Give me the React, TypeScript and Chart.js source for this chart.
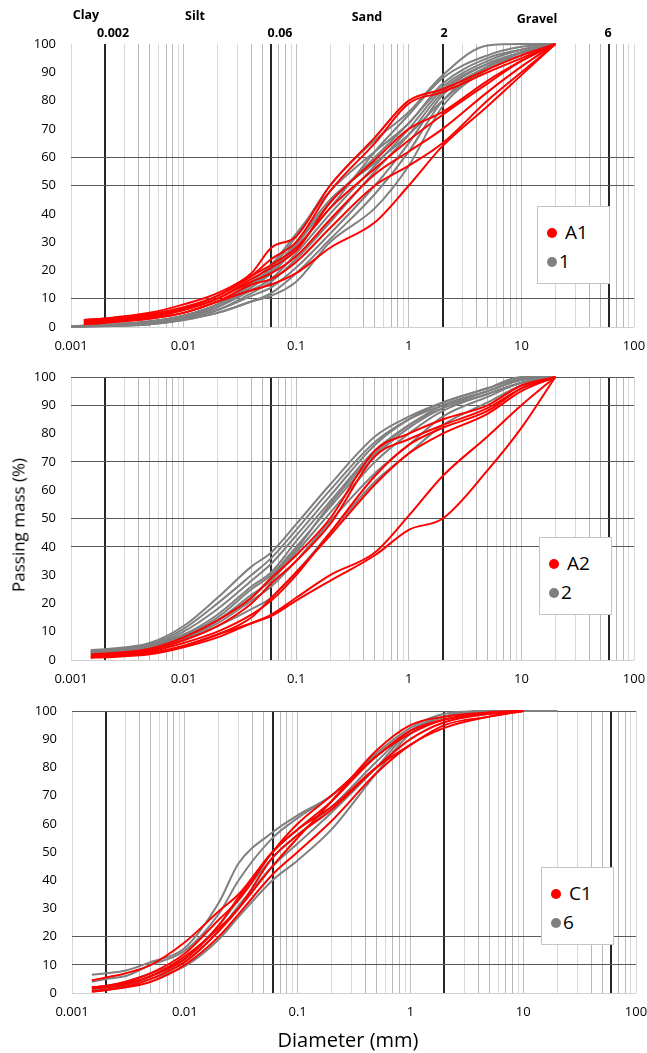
import React, { useEffect, useRef } from "react";
import { Chart, registerables } from "chart.js";
Chart.register(...registerables);

// ---------- axis data ----------
const decadeStarts = [0.001, 0.01, 0.1, 1, 10];
const multipliers = [1, 2, 3, 4, 5, 6, 7, 8, 9];
const yTickValues = [0, 10, 20, 30, 40, 50, 60, 70, 80, 90, 100];
const boundaryDiameters = [0.002, 0.06, 2, 60];
const darkMultipliers = [4, 5, 7, 8];

// horizontal reference lines per panel
const p1HLines = [10, 50, 60];
const p2HLines = [40, 50, 70, 90, 100];
const p3HLines = [10, 20, 100];

// header labels
const soilClasses = ["Clay", "Silt", "Sand", "Gravel"];
const boundaryLabels = ["0.002", "0.06", "2", "6"];

// ---------- panel 1 (A1 / 1) ----------
const p1GrayD = [0.001, 0.002, 0.005, 0.01, 0.02, 0.04, 0.06, 0.1, 0.2, 0.5, 1, 2, 5, 10, 20];
const p1Gray1 = [0.3, 0.8, 2, 4, 8, 15, 21, 32, 50, 66, 76, 89, 99.5, 100, 100];
const p1Gray2 = [0.3, 0.7, 2, 4, 8, 16, 22, 33, 48, 62, 72, 86, 95, 98, 100];
const p1Gray3 = [0.2, 0.6, 1.5, 3.5, 7, 14, 19, 29, 44, 60, 72, 85, 94, 98, 100];
const p1Gray4 = [0.2, 0.5, 1.5, 3.5, 7, 13, 17, 26, 40, 57, 70, 84, 93, 97, 100];
const p1Gray5 = [0.2, 0.5, 1.2, 3, 6, 12, 16, 24, 37, 55, 68, 83, 93, 97, 100];
const p1Gray6 = [0.1, 0.4, 1, 3, 6, 11, 14, 21, 33, 50, 65, 82, 92, 97, 100];
const p1Gray7 = [0.1, 0.4, 1, 2.5, 5, 9, 12, 19, 31, 47, 62, 80, 92, 96, 100];
const p1Gray8 = [0.1, 0.3, 1, 2.5, 5, 9, 11, 16, 30, 42, 57, 78, 91, 96, 100];
const p1Gray9 = [0.2, 0.5, 1.5, 3.5, 7, 15, 19, 28, 42, 62, 75, 88, 96, 99, 100];
const p1Gray10 = [0.2, 0.6, 1.8, 4, 8, 15, 20, 30, 45, 58, 68, 80, 92, 97, 100];

const p1RedD = [0.0013, 0.002, 0.005, 0.01, 0.02, 0.04, 0.06, 0.1, 0.2, 0.5, 1, 2, 5, 10, 20];
const p1Red1 = [2.5, 3, 5, 8, 12, 19, 28, 32, 50, 67, 80, 84, 91, 96, 100];
const p1Red2 = [2.5, 3, 4.5, 7, 11, 18, 24, 30, 48, 65, 79, 83, 90, 95, 100];
const p1Red3 = [1.5, 2, 3.5, 6, 10, 17, 21, 27, 44, 59, 70, 76, 87, 94, 100];
const p1Red4 = [1.5, 2, 3.5, 6, 10, 16, 19, 25, 38, 54, 62, 70, 83, 92, 100];
const p1Red5 = [1, 1.5, 3, 5, 9, 13, 15, 19, 28, 37, 50, 64, 78, 89, 100];
const p1Red6 = [1, 1.5, 3, 5, 9, 15, 17, 23, 35, 50, 57, 65, 80, 90, 100];
const p1Red7 = [2, 2.5, 4, 6.5, 11, 18, 22, 28, 42, 56, 66, 75, 86, 94, 100];

// ---------- panel 2 (A2 / 2) ----------
const p2D = [0.0015, 0.002, 0.005, 0.01, 0.02, 0.04, 0.06, 0.1, 0.2, 0.5, 1, 2, 5, 10, 20];
const p2Gray1 = [3.5, 3.8, 6, 12, 22, 33, 38, 48, 62, 79, 86, 91, 96, 99.5, 100];
const p2Gray2 = [3.2, 3.6, 5.5, 11, 20, 30, 36, 46, 60, 77, 85, 90, 95, 99, 100];
const p2Gray3 = [3, 3.4, 5, 10, 18, 28, 34, 44, 58, 76, 85, 91, 96, 100, 100];
const p2Gray4 = [3, 3.3, 5, 9, 16, 26, 31, 42, 56, 74, 83, 90, 95, 99, 100];
const p2Gray5 = [2.8, 3.1, 4.5, 8.5, 15, 25, 30, 40, 54, 72, 82, 89, 95, 99, 100];
const p2Gray6 = [2.6, 3, 4.2, 8, 14, 23, 28, 38, 52, 70, 80, 88, 94, 98, 100];
const p2Gray7 = [2.5, 2.8, 4, 7.5, 13, 21, 26, 35, 49, 66, 76, 86, 93, 98, 100];
const p2Gray8 = [2.4, 2.7, 3.8, 7, 12, 18, 22, 31, 45, 63, 73, 83, 91, 97, 100];
const p2Gray9 = [2.6, 2.9, 4.3, 8, 14, 22, 29, 39, 55, 73, 83, 89, 94, 98, 100];

const p2Red1 = [2, 2.3, 4, 8, 14, 22, 29, 37, 50, 74, 80, 85, 90, 97, 100];
const p2Red2 = [1.5, 2, 3.5, 7, 12, 20, 27, 35, 48, 72, 78, 83, 89, 96, 100];
const p2Red3 = [1.2, 1.5, 3, 6, 10, 16, 21, 30, 45, 65, 76, 82, 88, 96, 100];
const p2Red4 = [1, 1.3, 2.5, 5, 9, 15, 22, 31, 44, 62, 73, 80, 87, 95, 100];
const p2Red5 = [0.8, 1, 2, 4.5, 8, 13, 15.5, 21, 28, 37, 46, 50, 67, 82, 100];
const p2Red6 = [1, 1.2, 2.3, 5, 9, 13, 16, 22, 30, 38, 51, 65, 79, 90, 100];

// ---------- panel 3 (C1 / 6) ----------
const p3GrayD = [0.0015, 0.002, 0.003, 0.005, 0.01, 0.02, 0.03, 0.06, 0.1, 0.2, 0.5, 1, 2, 5, 10, 20];
const p3Gray1 = [6.5, 7, 8, 11, 16, 32, 46, 57, 63, 70, 85, 94, 99, 100, 100, 100];
const p3Gray2 = [4, 5, 6, 10, 15, 28, 40, 55, 62, 70, 84, 93, 98, 100, 100, 100];
const p3Gray3 = [2, 2.5, 4, 7, 12, 24, 33, 48, 56, 66, 82, 93, 98, 100, 100, 100];
const p3Gray4 = [1, 1.5, 2.5, 5, 9.5, 19, 27, 40, 47, 58, 78, 92, 98, 100, 100, 100];
const p3Gray5 = [1.5, 2, 3, 6, 11, 22, 31, 45, 53, 64, 80, 93, 98, 100, 100, 100];

const p3RedD = [0.0015, 0.002, 0.003, 0.005, 0.01, 0.02, 0.03, 0.06, 0.1, 0.2, 0.5, 1, 2, 5, 10];
const p3Red1 = [4.5, 5.5, 7, 10, 18, 29, 35, 50, 58, 66, 80, 88, 95, 98, 100];
const p3Red2 = [2, 2.5, 4, 7, 14, 26, 33, 50, 60, 70, 84, 93, 97, 99.5, 100];
const p3Red3 = [1.5, 2, 3, 6, 12, 24, 34, 50, 58, 68, 84, 92, 97, 99, 100];
const p3Red4 = [0.5, 1, 2, 4, 10, 20, 28, 42, 50, 61, 78, 88, 94, 98, 100];
const p3Red5 = [2, 2.5, 3.5, 6, 13, 23, 30, 45, 55, 68, 86, 95, 98, 99.5, 100];
const p3Red6 = [0.5, 1.2, 2.2, 5, 11, 22, 30, 48, 56, 65, 80, 90, 96, 99, 100];

const RED = "#ff0000";
const GRAY = "#808080";
const FONT = "'Open Sans', sans-serif";

// ---------- helpers ----------
const xTickValues: number[] = [];
decadeStarts.forEach((d) =>
  multipliers.forEach((m) => xTickValues.push(parseFloat((d * m).toPrecision(6))))
);
xTickValues.push(100);

const near = (a: number, b: number) => Math.abs(a / b - 1) < 1e-6;
const isDecade = (v: number) => {
  const l = Math.log10(v);
  return Math.abs(l - Math.round(l)) < 1e-6;
};
const multOf = (v: number) => Math.round(v / Math.pow(10, Math.floor(Math.log10(v) + 1e-9)));
const fmtDecade = (v: number) => {
  const e = Math.round(Math.log10(v));
  return e >= 0 ? String(Math.round(v)) : v.toFixed(-e);
};

type PanelSpec = {
  top: number;
  height: number;
  left: number;
  right: number;
  areaTop: number;
  areaBottom: number;
  hLines: number[];
  red: { d: number[]; rows: number[][] };
  gray: { d: number[]; rows: number[][] };
  legend: { x: number; y: number; red: string; gray: string };
};

const panels: PanelSpec[] = [
  {
    top: 0, height: 365, left: 71, right: 634, areaTop: 44, areaBottom: 327, hLines: p1HLines,
    red: { d: p1RedD, rows: [p1Red1, p1Red2, p1Red3, p1Red4, p1Red5, p1Red6, p1Red7] },
    gray: { d: p1GrayD, rows: [p1Gray1, p1Gray2, p1Gray3, p1Gray4, p1Gray5, p1Gray6, p1Gray7, p1Gray8, p1Gray9, p1Gray10] },
    legend: { x: 537, y: 206, red: "A1", gray: "1" },
  },
  {
    top: 365, height: 330, left: 71, right: 634, areaTop: 377, areaBottom: 660, hLines: p2HLines,
    red: { d: p2D, rows: [p2Red1, p2Red2, p2Red3, p2Red4, p2Red5, p2Red6] },
    gray: { d: p2D, rows: [p2Gray1, p2Gray2, p2Gray3, p2Gray4, p2Gray5, p2Gray6, p2Gray7, p2Gray8, p2Gray9] },
    legend: { x: 539, y: 537, red: "A2", gray: "2" },
  },
  {
    top: 695, height: 335, left: 72, right: 636, areaTop: 711, areaBottom: 993, hLines: p3HLines,
    red: { d: p3RedD, rows: [p3Red1, p3Red2, p3Red3, p3Red4, p3Red5, p3Red6] },
    gray: { d: p3GrayD, rows: [p3Gray1, p3Gray2, p3Gray3, p3Gray4, p3Gray5] },
    legend: { x: 541, y: 867, red: "C1", gray: "6" },
  },
];

function Panel({ spec }: { spec: PanelSpec }) {
  const ref = useRef<HTMLCanvasElement | null>(null);
  useEffect(() => {
    if (!ref.current) return;
    const mk = (d: number[], row: number[], color: string) => ({
      data: d.map((x, i) => ({ x, y: row[i] })),
      borderColor: color,
      backgroundColor: color,
      borderWidth: 2,
      pointRadius: 0,
      cubicInterpolationMode: "monotone" as const,
      fill: false,
      clip: 3,
    });
    const datasets = [
      ...spec.red.rows.map((r) => mk(spec.red.d, r, RED)),
      ...spec.gray.rows.map((r) => mk(spec.gray.d, r, GRAY)),
    ];
    const chart = new Chart(ref.current, {
      type: "line",
      data: { datasets },
      options: {
        animation: false,
        responsive: false,
        devicePixelRatio: 1,
        layout: {
          autoPadding: false,
          padding: { left: 0, right: 647 - spec.right, top: spec.areaTop - spec.top, bottom: 0 },
        },
        plugins: { legend: { display: false }, tooltip: { enabled: false } },
        scales: {
          x: {
            type: "logarithmic",
            min: 0.001,
            max: 100,
            afterBuildTicks: (axis: any) => {
              axis.ticks = xTickValues.map((v) => ({ value: v }));
            },
            afterFit: (axis: any) => {
              axis.height = spec.top + spec.height - spec.areaBottom;
              axis.paddingLeft = 0;
              axis.paddingRight = 0;
            },
            border: { display: false },
            grid: {
              drawTicks: false,
              color: (ctx: any) => {
                const v = ctx.tick?.value;
                if (v == null) return "#d9d9d9";
                if (boundaryDiameters.some((b) => near(v, b))) return "#262626";
                if (near(v, 0.001) || near(v, 100)) return "#d9d9d9";
                if (isDecade(v)) return "#bfbfbf";
                return darkMultipliers.includes(multOf(v)) ? "#b8b8b8" : "#d9d9d9";
              },
              lineWidth: (ctx: any) => {
                const v = ctx.tick?.value;
                if (v != null && boundaryDiameters.some((b) => near(v, b))) return 2;
                return 1;
              },
            },
            ticks: {
              autoSkip: false,
              maxRotation: 0,
              minRotation: 0,
              padding: 11,
              color: "#000",
              font: { family: FONT, size: 13 },
              callback: (v: any) => (isDecade(Number(v)) ? fmtDecade(Number(v)) : ""),
            },
          },
          y: {
            type: "linear",
            min: 0,
            max: 100,
            afterBuildTicks: (axis: any) => {
              axis.ticks = yTickValues.map((v) => ({ value: v }));
            },
            afterFit: (axis: any) => {
              axis.width = spec.left;
              axis.paddingTop = 0;
              axis.paddingBottom = 0;
            },
            border: { display: false },
            grid: {
              drawTicks: false,
              color: (ctx: any) => {
                const v = ctx.tick?.value;
                if (v === 0) return "#d0d0d0";
                return spec.hLines.includes(v) ? "#595959" : "rgba(0,0,0,0)";
              },
            },
            ticks: {
              padding: 15,
              color: "#000",
              font: { family: FONT, size: 13 },
              callback: (v: any) => String(v),
            },
          },
        },
      },
    });
    return () => chart.destroy();
  }, [spec]);
  const lg = spec.legend;
  return (
    <>
      <canvas
        ref={ref}
        width={647}
        height={spec.height}
        style={{ position: "absolute", left: 0, top: spec.top, width: 647, height: spec.height }}
      />
      <div
        style={{
          position: "absolute",
          left: lg.x,
          top: lg.y,
          width: 73,
          height: 78,
          boxSizing: "border-box",
          border: "1px solid #c4c4c4",
          background: "#fff",
          fontFamily: FONT,
          fontSize: 19,
          color: "#000",
        }}
      >
        <div style={{ position: "absolute", left: 9, top: 21, width: 10, height: 10, borderRadius: 5, background: RED }} />
        <div style={{ position: "absolute", left: 27, top: 12, lineHeight: "26px" }}>{lg.red}</div>
        <div style={{ position: "absolute", left: 9, top: 50, width: 10, height: 10, borderRadius: 5, background: GRAY }} />
        <div style={{ position: "absolute", left: 21, top: 41, lineHeight: "26px" }}>{lg.gray}</div>
      </div>
    </>
  );
}

const label = (text: string, x: number, y: number, size: number, bold: boolean) => (
  <div
    key={text + x}
    style={{
      position: "absolute",
      left: x,
      top: y,
      transform: "translate(-50%, -50%)",
      fontFamily: FONT,
      fontSize: size,
      fontWeight: bold ? 700 : 400,
      whiteSpace: "nowrap",
      color: "#000",
      lineHeight: 1,
    }}
  >
    {text}
  </div>
);

const classPos = [
  [86, 15],
  [195, 16],
  [367, 17],
  [537, 19],
];
const boundaryPos = [
  [113, 33],
  [280, 33],
  [444, 33],
  [608, 33],
];

export default function App() {
  return (
    <div style={{ position: "absolute", left: 0, top: 0, width: 647, height: 1053, background: "#fff", overflow: "hidden" }}>
      {panels.map((p, i) => (
        <Panel key={i} spec={p} />
      ))}
      {soilClasses.map((t, i) => label(t, classPos[i][0], classPos[i][1], 12.5, true))}
      {boundaryLabels.map((t, i) => label(t, boundaryPos[i][0], boundaryPos[i][1], 12.5, true))}
      <div
        style={{
          position: "absolute",
          left: 18,
          top: 525,
          transform: "translate(-50%, -50%) rotate(-90deg)",
          fontFamily: FONT,
          fontSize: 17,
          whiteSpace: "nowrap",
          lineHeight: 1,
          color: "#000",
        }}
      >
        Passing mass (%)
      </div>
      {label("Diameter (mm)", 348, 1040, 20, false)}
    </div>
  );
}
